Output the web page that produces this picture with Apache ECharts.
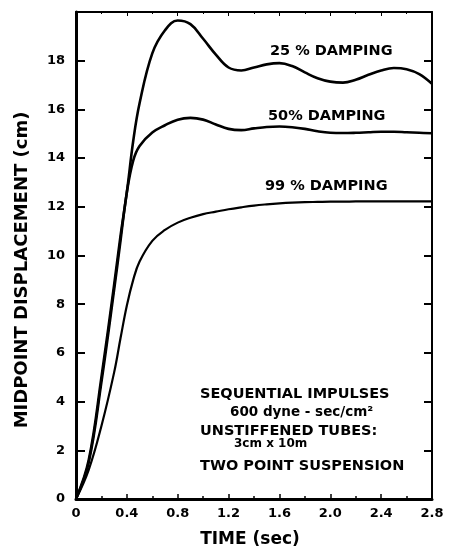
<!DOCTYPE html>
<html>
<head>
<meta charset="utf-8">
<script src="https://cdn.jsdelivr.net/npm/echarts@6/dist/echarts.min.js"></script>
<style>
  html, body { margin: 0; padding: 0; background: #fff; }
  #chart { width: 452px; height: 553px; }
</style>
</head>
<body>
<div id="chart"></div>
<script>
// time (sec)
var time = [0, 0.1, 0.2, 0.3, 0.35, 0.4, 0.45, 0.5, 0.6, 0.7, 0.8, 0.9, 1.0, 1.1, 1.2, 1.3, 1.4,
  1.5, 1.6, 1.7, 1.8, 1.9, 2.0, 2.1, 2.2, 2.3, 2.4, 2.5, 2.6, 2.7, 2.8];
// midpoint displacement (cm)
var damping25 = [0, 1.6, 5.0, 8.8, 10.8, 12.6, 14.7, 16.25, 18.3, 19.25, 19.65, 19.5, 18.9, 18.25,
  17.72, 17.6, 17.72, 17.85, 17.9, 17.78, 17.52, 17.28, 17.14, 17.1, 17.22, 17.42, 17.6, 17.7, 17.65, 17.45, 17.05];
var damping50 = [0, 1.5, 4.8, 8.6, 10.6, 12.6, 13.9, 14.5, 15.05, 15.35, 15.58, 15.65, 15.58, 15.38,
  15.2, 15.15, 15.22, 15.28, 15.3, 15.27, 15.2, 15.1, 15.04, 15.03, 15.04, 15.06, 15.08, 15.08, 15.06, 15.04, 15.02];
var damping99 = [0, 1.2, 3.0, 5.2, 6.6, 7.95, 9.0, 9.75, 10.6, 11.05, 11.35, 11.55, 11.7, 11.8,
  11.9, 11.98, 12.05, 12.1, 12.14, 12.17, 12.19, 12.2, 12.21, 12.21, 12.22, 12.22, 12.22, 12.22, 12.22, 12.22, 12.22];

var font = 'DejaVu Sans';

function pairs (vals) {
  return time.map(function (t, i) { return [t, vals[i]]; });
}

var dom = echarts.init(document.getElementById('chart'));

function curve (name, vals, w) {
  return {
    name: name,
    type: 'line',
    data: pairs(vals),
    smooth: 0.4,
    showSymbol: false,
    lineStyle: { color: '#000', width: w },
    xAxisIndex: 0,
    yAxisIndex: 0
  };
}

function txt (x, y, s, size) {
  return {
    type: 'text',
    left: x,
    top: y,
    style: { text: s, font: 'bold ' + size + 'px "' + font + '"', fill: '#000' }
  };
}

dom.setOption({
  animation: false,
  backgroundColor: '#fff',
  grid: { left: 76, right: 20, top: 12, bottom: 54 },
  xAxis: [{
    type: 'value',
    min: 0,
    max: 2.8,
    interval: 0.4,
    position: 'bottom',
    axisLine: { show: true, onZero: false, lineStyle: { color: '#000', width: 3 } },
    axisTick: { inside: true, length: 5, lineStyle: { color: '#000', width: 1.5 } },
    minorTick: { show: true, splitNumber: 2, length: 3, lineStyle: { color: '#000', width: 1.5 } },
    axisLabel: {
      fontFamily: font, fontWeight: 'bold', fontSize: 13, color: '#000', margin: 8,
      formatter: function (v) { return v === 0 ? '0' : v.toFixed(1); }
    },
    splitLine: { show: false }
  }, {
    type: 'value',
    min: 0,
    max: 2.8,
    interval: 0.4,
    position: 'top',
    axisLine: { show: true, onZero: false, lineStyle: { color: '#000', width: 2 } },
    axisTick: { inside: true, length: 4, lineStyle: { color: '#000', width: 1 } },
    minorTick: { show: true, splitNumber: 2, length: 2, lineStyle: { color: '#000', width: 1 } },
    axisLabel: { show: false },
    splitLine: { show: false }
  }],
  yAxis: [{
    type: 'value',
    min: 0,
    max: 20,
    interval: 2,
    position: 'left',
    axisLine: { show: true, onZero: false, lineStyle: { color: '#000', width: 3 } },
    axisTick: { show: true, inside: true, length: 9, lineStyle: { color: '#000', width: 2 } },
    axisLabel: {
      fontFamily: font, fontWeight: 'bold', fontSize: 13, color: '#000', margin: 11,
      formatter: function (v) { return v === 20 ? '' : String(v); }
    },
    splitLine: { show: false }
  }, {
    type: 'value',
    min: 0,
    max: 20,
    interval: 2,
    position: 'right',
    axisLine: { show: true, onZero: false, lineStyle: { color: '#000', width: 2 } },
    axisTick: { show: true, inside: true, length: 8, lineStyle: { color: '#000', width: 2 } },
    axisLabel: { show: false },
    splitLine: { show: false }
  }],
  series: [
    curve('25 % DAMPING', damping25, 2.6),
    curve('50% DAMPING', damping50, 2.6),
    curve('99 % DAMPING', damping99, 2.2)
  ],
  graphic: [
    // axis titles
    {
      type: 'text',
      x: 22,
      y: 270,
      rotation: Math.PI / 2,
      style: {
        text: 'MIDPOINT DISPLACEMENT (cm)', font: 'bold 18px "' + font + '"', fill: '#000',
        align: 'center', verticalAlign: 'middle'
      }
    },
    {
      type: 'text',
      x: 250,
      y: 540,
      style: {
        text: 'TIME (sec)', font: 'bold 17px "' + font + '"', fill: '#000',
        align: 'center', verticalAlign: 'middle'
      }
    },
    txt(270, 44, '25 % DAMPING', 14.5),
    txt(268, 109, '50% DAMPING', 14.5),
    txt(265, 179, '99 % DAMPING', 14.5),
    txt(200, 387, 'SEQUENTIAL IMPULSES', 14.5),
    txt(230, 405, '600 dyne - sec/cm\u00B2', 13.5),
    txt(200, 424, 'UNSTIFFENED TUBES:', 14.5),
    txt(234, 438, '3cm x 10m', 12),
    txt(200, 459, 'TWO POINT SUSPENSION', 14.5)
  ]
});
</script>
</body>
</html>
